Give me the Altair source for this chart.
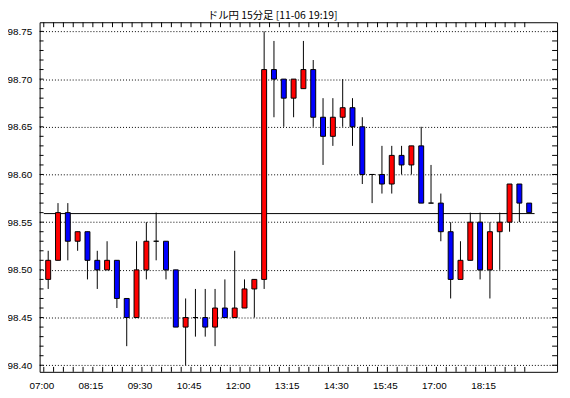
import altair as alt
import pandas as pd

title_text = "ドル円 15分足 [11-06 19:19]"
times = ["07:00", "08:15", "09:30", "10:45", "12:00", "13:15", "14:30", "15:45", "17:00", "18:15"]

opens = [98.49, 98.51, 98.56, 98.53, 98.54, 98.51, 98.50, 98.51, 98.47, 98.45,
         98.50, 98.53, 98.53, 98.50, 98.44, 98.45, 98.45, 98.44, 98.46, 98.45,
         98.46, 98.48, 98.49, 98.71, 98.70, 98.68, 98.69, 98.71, 98.66, 98.64,
         98.66, 98.67, 98.65, 98.60, 98.60, 98.59, 98.62, 98.61, 98.63, 98.57,
         98.57, 98.54, 98.49, 98.51, 98.55, 98.50, 98.54, 98.55, 98.59, 98.57]
highs = [98.52, 98.57, 98.57, 98.54, 98.54, 98.52, 98.53, 98.51, 98.47, 98.53,
         98.55, 98.56, 98.53, 98.50, 98.47, 98.48, 98.48, 98.48, 98.49, 98.52,
         98.49, 98.49, 98.75, 98.74, 98.70, 98.70, 98.74, 98.72, 98.68, 98.68,
         98.70, 98.68, 98.66, 98.60, 98.63, 98.63, 98.63, 98.63, 98.65, 98.61,
         98.58, 98.55, 98.53, 98.56, 98.56, 98.55, 98.56, 98.59, 98.59, 98.57]
lows = [98.48, 98.51, 98.51, 98.52, 98.49, 98.48, 98.50, 98.46, 98.42, 98.45,
        98.49, 98.51, 98.49, 98.44, 98.40, 98.43, 98.43, 98.42, 98.45, 98.45,
        98.46, 98.45, 98.48, 98.66, 98.65, 98.66, 98.69, 98.65, 98.61, 98.63,
        98.65, 98.63, 98.59, 98.57, 98.58, 98.58, 98.60, 98.60, 98.57, 98.57,
        98.53, 98.47, 98.49, 98.51, 98.49, 98.47, 98.50, 98.54, 98.55, 98.56]
closes = [98.51, 98.56, 98.53, 98.54, 98.51, 98.50, 98.51, 98.47, 98.45, 98.50,
          98.53, 98.53, 98.50, 98.44, 98.45, 98.45, 98.44, 98.46, 98.45, 98.46,
          98.48, 98.49, 98.71, 98.70, 98.68, 98.70, 98.71, 98.66, 98.64, 98.66,
          98.67, 98.65, 98.60, 98.60, 98.59, 98.62, 98.61, 98.63, 98.57, 98.57,
          98.54, 98.49, 98.51, 98.55, 98.50, 98.54, 98.55, 98.59, 98.57, 98.56]
ref_price = 98.559
y_label_values = [98.40, 98.45, 98.50, 98.55, 98.60, 98.65, 98.70, 98.75]

n = len(opens)
df = pd.DataFrame({"i": list(range(n)), "open": opens, "high": highs, "low": lows, "close": closes})
df["dir"] = ["up" if c >= o else "down" for o, c in zip(opens, closes)]

W, H = 524, 354
xs = alt.Scale(domain=[-0.875, 51.84], nice=False, zero=False, padding=0)
ys = alt.Scale(domain=[98.3931, 98.7596], nice=False, zero=False, padding=0)

label_arr = "[" + ",".join("'%s'" % t for t in times) + "]"
x_axis = alt.Axis(values=[5 * k - 0.7 for k in range(len(times))],
                  labelExpr=label_arr + "[round((datum.value + 0.7) / 5)]",
                  title=None, ticks=False, tickSize=0, domain=False, grid=False,
                  labelFont="Liberation Sans", labelFontSize=10, labelColor="black",
                  labelPadding=9)
y_axis = alt.Axis(values=y_label_values, format=".2f", title=None, ticks=False, tickSize=0,
                  domain=False, grid=True, gridDash=[1, 2], gridColor="black", gridOpacity=1,
                  gridWidth=1, labelFont="Liberation Sans", labelFontSize=10, labelColor="black",
                  labelPadding=8)

base = alt.Chart(df)
wick = base.mark_rule(color="black", strokeWidth=1).encode(
    x=alt.X("i:Q", scale=xs, axis=x_axis),
    y=alt.Y("low:Q", scale=ys, axis=y_axis),
    y2="high:Q",
)
body = base.mark_bar(size=5, stroke="black", strokeWidth=1, opacity=1).encode(
    x=alt.X("i:Q", scale=xs, axis=x_axis),
    y=alt.Y("open:Q", scale=ys, axis=y_axis),
    y2="close:Q",
    color=alt.Color("dir:N", scale=alt.Scale(domain=["up", "down"], range=["#ff0000", "#0000ff"]), legend=None),
)

ref_df = pd.DataFrame({"x": [-0.45], "x2": [n - 1 + 0.55], "y": [ref_price]})
ref = alt.Chart(ref_df).mark_rule(color="black", strokeWidth=1).encode(
    x=alt.X("x:Q", scale=xs, axis=x_axis), x2="x2:Q",
    y=alt.Y("y:Q", scale=ys, axis=y_axis),
)

xt_df = pd.DataFrame({"t": [k - 0.45 for k in range(n)]})
xt_bottom = alt.Chart(xt_df).mark_rule(color="black", strokeWidth=1).encode(
    x=alt.X("t:Q", scale=xs, axis=x_axis), y=alt.value(H), y2=alt.value(H - 5))
xt_top = alt.Chart(xt_df).mark_rule(color="black", strokeWidth=1).encode(
    x=alt.X("t:Q", scale=xs, axis=x_axis), y=alt.value(0), y2=alt.value(5))

yt_df = pd.DataFrame({"v": [round(98.40 + 0.01 * k, 2) for k in range(36)]})
yt_left = alt.Chart(yt_df).mark_rule(color="black", strokeWidth=1).encode(
    y=alt.Y("v:Q", scale=ys, axis=y_axis), x=alt.value(0), x2=alt.value(4))
yt_right = alt.Chart(yt_df).mark_rule(color="black", strokeWidth=1).encode(
    y=alt.Y("v:Q", scale=ys, axis=y_axis), x=alt.value(W), x2=alt.value(W - 5))

title_df = pd.DataFrame({"t": [title_text]})
title = alt.Chart(title_df).mark_text(font="Noto Sans CJK JP", fontSize=10.5, color="black",
                                      align="center", baseline="middle").encode(
    text="t:N", x=alt.value(236), y=alt.value(-6))

chart = alt.layer(ref, xt_bottom, xt_top, yt_left, yt_right, wick, body, title).properties(
    width=W, height=H,
    autosize=alt.AutoSizeParams(type="none"),
    padding={"left": 32, "top": 12, "right": 5, "bottom": 18},
    background="white",
).configure_view(stroke="black", strokeWidth=1)

chart.save("out.html", embed_options={"renderer": "svg", "actions": False})
